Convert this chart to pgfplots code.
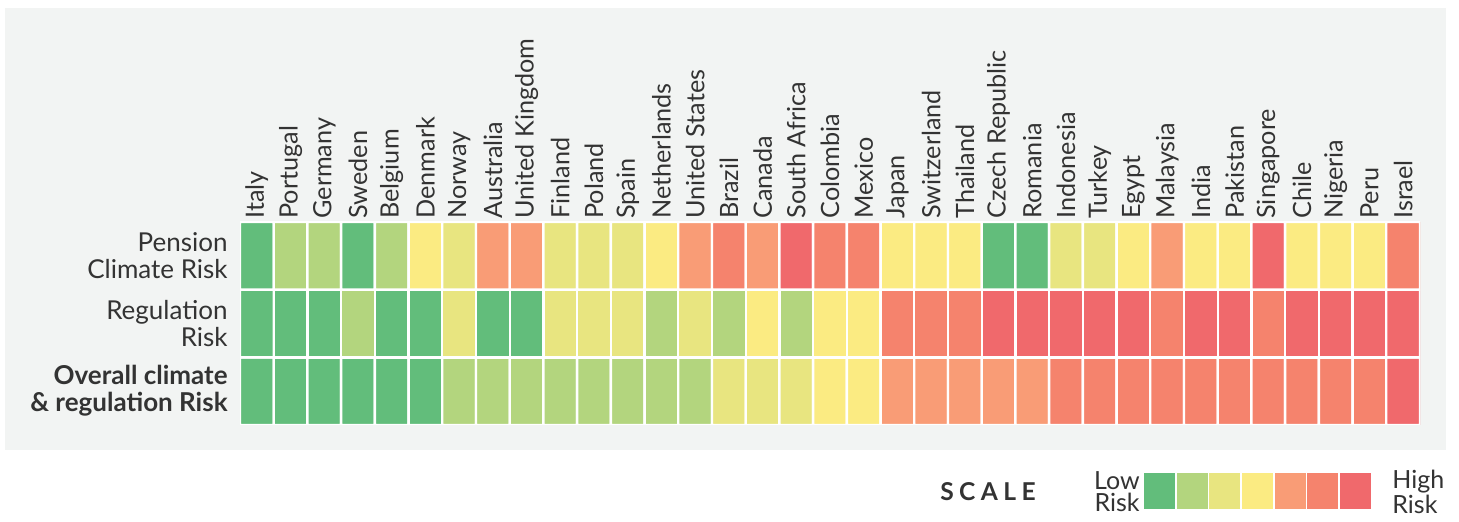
\documentclass[border=0pt]{standalone}
\usepackage{fontspec}
\setmainfont{Lato}
\newfontfamily\spacedfont[LetterSpace=22]{Lato}
\usepackage{pgfplots}
\pgfplotsset{compat=1.18}
\definecolor{panelgrey}{RGB}{242,244,243}
\definecolor{txt}{RGB}{51,51,51}
\definecolor{c1}{RGB}{98,189,123}
\definecolor{c2}{RGB}{179,213,126}
\definecolor{c3}{RGB}{232,229,128}
\definecolor{c4}{RGB}{251,235,130}
\definecolor{c5}{RGB}{249,156,118}
\definecolor{c6}{RGB}{245,131,109}
\definecolor{c7}{RGB}{240,105,108}
\begin{document}
\begin{tikzpicture}
\path[fill=white] (0,0) rectangle (729.5pt,261pt);
\fill[panelgrey] (2.5pt,36pt) rectangle (723pt,257pt);
\begin{axis}[
  at={(120pt,48.5pt)}, anchor=south west,
  scale only axis, width=590pt, height=101.5pt,
  xmin=-0.5, xmax=34.5, ymin=-0.5, ymax=2.5,
  axis line style={draw=none}, tick style={draw=none},
  xtick={0,...,34},
  xticklabels={Italy,Portugal,Germany,Sweden,Belgium,Denmark,Norway,Australia,United Kingdom,Finland,Poland,Spain,Netherlands,United States,Brazil,Canada,South Africa,Colombia,Mexico,Japan,Switzerland,Thailand,Czech Republic,Romania,Indonesia,Turkey,Egypt,Malaysia,India,Pakistan,Singapore,Chile,Nigeria,Peru,Israel},
  xticklabel pos=upper,
  xticklabel style={rotate=90, anchor=west, font=\fontsize{12.6}{13}\selectfont, text=txt, inner sep=1.5pt},
  ytick={0,1,2},
  yticklabels={{\bfseries Overall climate\\\bfseries \& regulation Risk},{Regulation\\Risk},{Pension\\Climate Risk}},
  yticklabel style={align=right, font=\fontsize{13}{13.5}\selectfont, text=txt, inner sep=1pt, xshift=-5pt},
  colormap={risk}{rgb255=(255,255,255) rgb255=(98,189,123) rgb255=(179,213,126) rgb255=(232,229,128) rgb255=(251,235,130) rgb255=(249,156,118) rgb255=(245,131,109) rgb255=(240,105,108)},
  colormap access=direct,
]
\addplot[matrix plot*, shader=faceted, faceted color=white, line width=1.2pt, mesh/cols=35, mesh/rows=3, point meta=explicit] coordinates {
(0,0)[1] (1,0)[1] (2,0)[1] (3,0)[1] (4,0)[1] (5,0)[1] (6,0)[2] (7,0)[2] (8,0)[2] (9,0)[2]
(10,0)[2] (11,0)[2] (12,0)[2] (13,0)[2] (14,0)[3] (15,0)[3] (16,0)[3] (17,0)[4] (18,0)[4] (19,0)[5]
(20,0)[5] (21,0)[5] (22,0)[5] (23,0)[5] (24,0)[6] (25,0)[6] (26,0)[6] (27,0)[6] (28,0)[6] (29,0)[6]
(30,0)[6] (31,0)[6] (32,0)[6] (33,0)[6] (34,0)[7]

(0,1)[1] (1,1)[1] (2,1)[1] (3,1)[2] (4,1)[1] (5,1)[1] (6,1)[3] (7,1)[1] (8,1)[1] (9,1)[3]
(10,1)[3] (11,1)[3] (12,1)[2] (13,1)[3] (14,1)[2] (15,1)[4] (16,1)[2] (17,1)[4] (18,1)[4] (19,1)[6]
(20,1)[6] (21,1)[6] (22,1)[7] (23,1)[7] (24,1)[7] (25,1)[7] (26,1)[7] (27,1)[6] (28,1)[7] (29,1)[7]
(30,1)[6] (31,1)[7] (32,1)[7] (33,1)[7] (34,1)[7]

(0,2)[1] (1,2)[2] (2,2)[2] (3,2)[1] (4,2)[2] (5,2)[4] (6,2)[3] (7,2)[5] (8,2)[5] (9,2)[3]
(10,2)[3] (11,2)[3] (12,2)[4] (13,2)[5] (14,2)[6] (15,2)[5] (16,2)[7] (17,2)[6] (18,2)[6] (19,2)[4]
(20,2)[4] (21,2)[4] (22,2)[1] (23,2)[1] (24,2)[3] (25,2)[3] (26,2)[4] (27,2)[5] (28,2)[4] (29,2)[4]
(30,2)[7] (31,2)[4] (32,2)[4] (33,2)[4] (34,2)[6]
};
\end{axis}
\begin{axis}[
  at={(571.5pt,6pt)}, anchor=south west,
  scale only axis, width=114.5pt, height=19pt,
  xmin=-0.5, xmax=6.5, ymin=0, ymax=1,
  hide axis,
  ybar, bar width=1, bar shift=0pt,
]
\addplot[fill=c1, draw=white, line width=0.8pt] coordinates {(0,1)};
\addplot[fill=c2, draw=white, line width=0.8pt] coordinates {(1,1)};
\addplot[fill=c3, draw=white, line width=0.8pt] coordinates {(2,1)};
\addplot[fill=c4, draw=white, line width=0.8pt] coordinates {(3,1)};
\addplot[fill=c5, draw=white, line width=0.8pt] coordinates {(4,1)};
\addplot[fill=c6, draw=white, line width=0.8pt] coordinates {(5,1)};
\addplot[fill=c7, draw=white, line width=0.8pt] coordinates {(6,1)};
\end{axis}
\node[anchor=center, text=txt, font=\spacedfont\bfseries\fontsize{12.3}{12}\selectfont] at (494pt,15pt) {SCALE};
\node[anchor=east, align=right, text=txt, font=\fontsize{12.5}{11}\selectfont, inner sep=0pt] at (570pt,15pt) {Low\\Risk};
\node[anchor=west, align=left, text=txt, font=\fontsize{12.5}{11}\selectfont, inner sep=0pt] at (696pt,15pt) {High\\Risk};
\end{tikzpicture}
\end{document}
